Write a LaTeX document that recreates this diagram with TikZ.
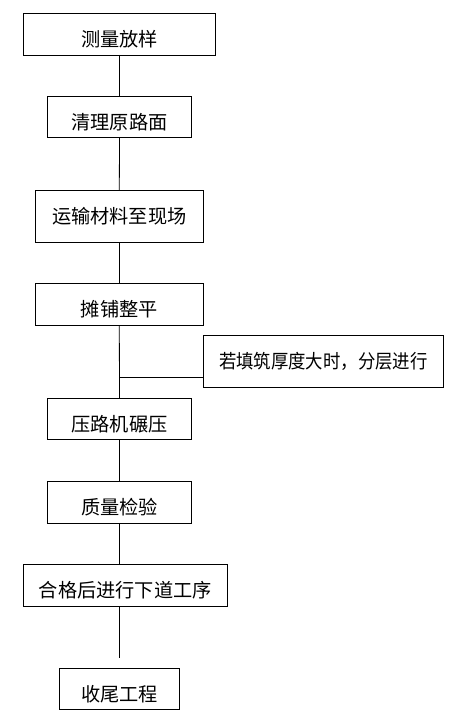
\documentclass[tikz,border=0pt]{standalone}
\usepackage{fontspec}
\usepackage{graphicx}
\newfontfamily\cjk{Noto Sans CJK SC}
\begin{document}
\begin{tikzpicture}[x=1pt,y=-1pt,
  box/.style n args={3}{draw, line width=0.8pt, inner xsep=0pt, inner ysep=0pt, outer sep=0pt,
     minimum width=#1, text height=33pt, text depth=#2, align=center,
     font=\cjk\fontsize{19.2}{20}\selectfont, anchor=center},
  conn/.style={line width=0.8pt}]
\useasboundingbox (0,0) rectangle (449,721);
\node[box={192.4pt}{8.5pt}{}] (b1) at (119.5,34.2) {测量放样};
\node[box={143.6pt}{8.1pt}{}] (b2) at (119.5,117.3) {清理原路面};
\node[box={168pt}{18.8pt}{}] (b3) at (119.3,216.3) {运输材料至现场};
\node[box={168pt}{8.8pt}{}] (b4) at (119.3,304.3) {摊铺整平};
\node[box={240pt}{18.5pt}{}] (b5) at (323.3,361.2) {\scalebox{0.905}[1]{若填筑厚度大时，分层进行}};
\node[box={143.6pt}{7.8pt}{}] (b6) at (119.5,418.8) {压路机碾压};
\node[box={143.6pt}{8.5pt}{}] (b7) at (119.5,502.2) {质量检验};
\node[box={204pt}{8.8pt}{}] (b8) at (125.3,585.3) {合格后进行下道工序};
\node[box={119.6pt}{8.1pt}{}] (b9) at (119.5,689.3) {收尾工程};
\coordinate (j) at (119.4,377.3);
\coordinate (e) at (119.4,657.7);
\draw[conn] (b1.south) -- (b2.north);
\draw[conn] (b2.south) -- (b3.north);
\draw[conn] (b3.south) -- (b4.north);
\draw[conn] (b4.south) -- (b6.north);
\draw[conn] (j) -- (j -| b5.west);
\draw[conn] (b6.south) -- (b7.north);
\draw[conn] (b7.south) -- (b7.south |- b8.north);
\draw[conn] (b8.south -| e) -- (e);
\end{tikzpicture}
\end{document}
